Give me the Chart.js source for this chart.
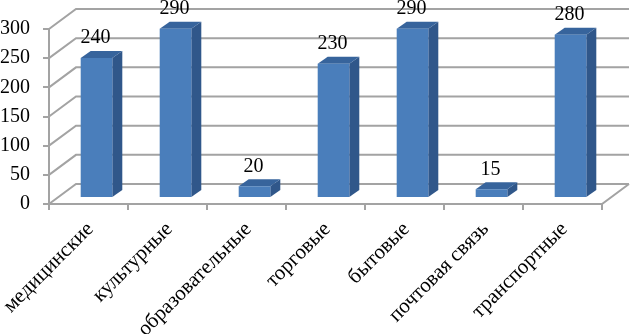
<!DOCTYPE html>
<html lang="ru">
<head>
<meta charset="utf-8">
<title>Chart</title>
<script src="https://cdn.jsdelivr.net/npm/chart.js@4/dist/chart.umd.min.js"></script>
<style>
  html, body { margin: 0; padding: 0; background: #fff; overflow: hidden; }
  canvas { display: block; }
</style>
</head>
<body>
<canvas id="chart" width="634" height="334"></canvas>
<script>
const categories = ['медицинские', 'культурные', 'образовательные', 'торговые', 'бытовые', 'почтовая связь', 'транспортные'];
const values = [240, 290, 20, 230, 290, 15, 280];
const yTicks = [0, 50, 100, 150, 200, 250, 300];

const FONT = '"Liberation Serif", "Times New Roman", serif';
const GRID = '#a3a3a3';
const FRONT = '#4a7ebb';
const SIDE = '#30578a';
const TOP = '#37649c';

// depth of the chart box and of the bars, and where the bars stand on the floor
const WALL = { dx: 27, dy: -20 };
const BAR = { dx: 10, dy: -7 };
const SHIFT = { dx: 8, dy: -6 };

function poly(ctx, points, fill) {
  ctx.beginPath();
  points.forEach((p, i) => (i ? ctx.lineTo(p[0], p[1]) : ctx.moveTo(p[0], p[1])));
  ctx.closePath();
  ctx.fillStyle = fill;
  ctx.fill();
}

const box3d = {
  id: 'box3d',
  beforeDatasetsDraw(chart) {
    const { ctx, scales: { x, y } } = chart;
    ctx.save();
    ctx.strokeStyle = GRID;
    ctx.lineWidth = 2;
    yTicks.forEach((v) => {
      const py = y.getPixelForValue(v);
      ctx.beginPath();
      ctx.moveTo(x.left, py);
      ctx.lineTo(x.left + WALL.dx, py + WALL.dy);
      ctx.lineTo(x.right + WALL.dx, py + WALL.dy);
      ctx.stroke();
    });
    // floor edge and the upright at the front left
    ctx.beginPath();
    ctx.moveTo(x.left, y.top);
    ctx.lineTo(x.left, y.bottom);
    ctx.lineTo(x.right, y.bottom);
    ctx.lineTo(x.right + WALL.dx, y.bottom + WALL.dy);
    ctx.stroke();
    ctx.restore();
  },
  beforeDatasetDraw(chart, args) {
    const { ctx } = chart;
    ctx.save();
    ctx.translate(SHIFT.dx, SHIFT.dy);
    args.meta.data.forEach((bar) => {
      const { x, y, base, width } = bar.getProps(['x', 'y', 'base', 'width'], true);
      const l = x - width / 2;
      const r = x + width / 2;
      poly(ctx, [[r, y], [r + BAR.dx, y + BAR.dy], [r + BAR.dx, base + BAR.dy], [r, base]], SIDE);
      poly(ctx, [[l, y], [l + BAR.dx, y + BAR.dy], [r + BAR.dx, y + BAR.dy], [r, y]], TOP);
    });
  },
  afterDatasetDraw(chart, args) {
    const { ctx } = chart;
    ctx.restore();
    ctx.save();
    ctx.font = '20px ' + FONT;
    ctx.fillStyle = '#000';
    ctx.textAlign = 'center';
    ctx.textBaseline = 'middle';
    args.meta.data.forEach((bar, i) => {
      ctx.fillText(String(values[i]), bar.x + SHIFT.dx - 1, bar.y + SHIFT.dy - 20);
    });
    ctx.restore();
  },
};

new Chart(document.getElementById('chart'), {
  type: 'bar',
  data: {
    labels: categories,
    datasets: [{
      data: values,
      backgroundColor: FRONT,
      borderWidth: 0,
      barPercentage: 0.4,
      categoryPercentage: 1,
    }],
  },
  options: {
    responsive: false,
    animation: false,
    layout: { padding: { top: 29, right: 32, left: 0, bottom: 0 } },
    plugins: { legend: { display: false }, tooltip: { enabled: false } },
    scales: {
      x: {
        afterFit(scale) {
          scale.height = 130;
          // the rotated first label may run off the left edge, as in the original
          scale.paddingLeft = 0;
          scale.paddingRight = 0;
        },
        grid: { drawOnChartArea: false, color: GRID, lineWidth: 2, tickLength: 6 },
        border: { display: false },
        ticks: {
          autoSkip: false,
          minRotation: 45,
          maxRotation: 45,
          padding: 7,
          labelOffset: 2,
          color: '#000',
          font: { family: FONT, size: 21 },
        },
      },
      y: {
        min: 0,
        max: 300,
        afterFit(scale) { scale.width = 49; },
        afterBuildTicks(scale) { scale.ticks = yTicks.map((value) => ({ value })); },
        grid: { drawOnChartArea: false, color: GRID, lineWidth: 2, tickLength: 6 },
        border: { display: false },
        ticks: {
          padding: 13,
          color: '#000',
          font: { family: FONT, size: 20 },
        },
      },
    },
  },
  plugins: [box3d],
});
</script>
</body>
</html>
